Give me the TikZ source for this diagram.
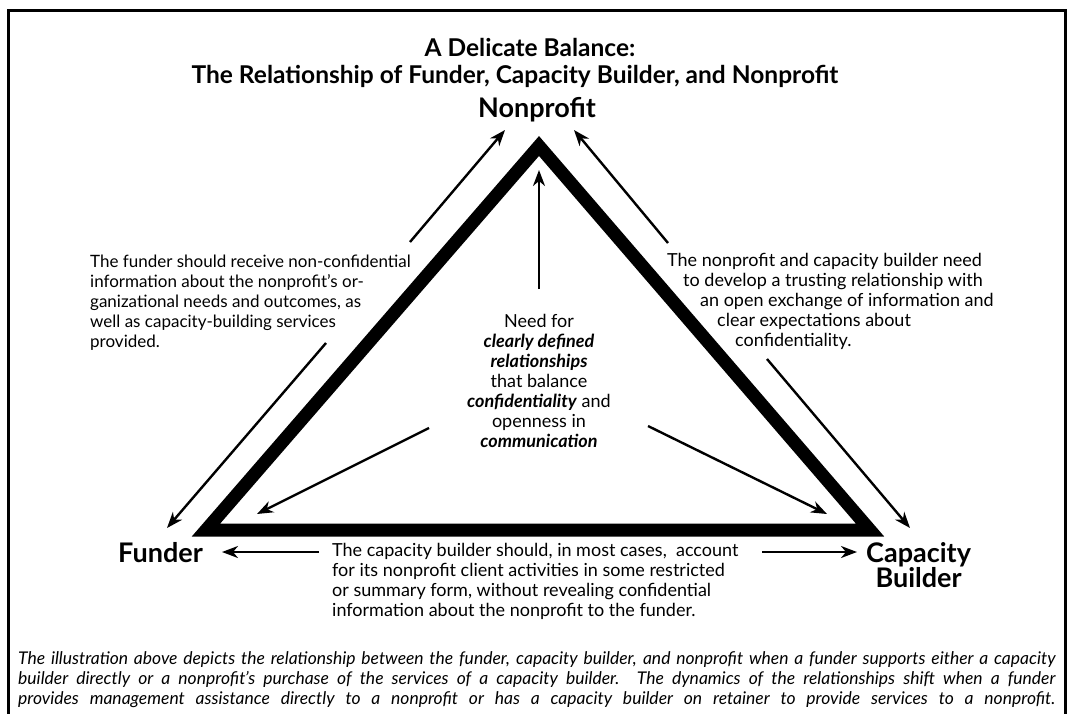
\documentclass[tikz,border=0pt]{standalone}
\usepackage{fontspec}
\setmainfont{Lato}
\usetikzlibrary{arrows.meta}

\tikzset{
  frame/.style={line width=3pt},
  balance/.style={line width=13pt, miter limit=10, line join=miter},
  flow/.style={line width=2.4pt, -{Stealth[length=16pt,width=12pt,inset=5pt]}},
  heading/.style={font=\fontsize{24.5}{28}\selectfont\bfseries, inner sep=0pt},
  party/.style={font=\fontsize{27}{24}\selectfont\bfseries, inner sep=0pt, align=center},
  body/.style={font=\fontsize{18}{20}\selectfont, inner sep=0pt},
  bodysmall/.style={font=\fontsize{17}{20}\selectfont, inner sep=0pt},
  note/.style={font=\fontsize{17.5}{20}\selectfont\itshape, inner sep=0pt, align=left},
}

\begin{document}
\begin{tikzpicture}[x=1pt, y=-1pt]
  \useasboundingbox (0,0) rectangle (1068,713);
  \fill[white] (0,0) rectangle (1068,713);

  % open frame (its lower edge lies below the page)
  \draw[frame] (8,740) -- (8,10) -- (1065,10) -- (1065,740);

  % titles
  \node[heading] (title1) at (530,47) {A Delicate Balance:};
  \node[heading] (title2) at (515,76) {The Relationship of Funder, Capacity Builder, and Nonprofit};

  % the three parties
  \node[party] (np) at (537,110) {Nonprofit};
  \node[party, anchor=east] (funder) at (203,553) {Funder};
  \node[party, anchor=west] (cb) at (866,565) {Capacity\\Builder};

  % the balance triangle
  \coordinate (A) at (539,146);
  \coordinate (B) at (206,530);
  \coordinate (C) at (870,530);
  \draw[balance] (A) -- (B) -- (C) -- cycle;

  % arrow end points
  \coordinate (l1s) at (410,242);  \coordinate (l1e) at (505,130);
  \coordinate (l2s) at (326,343);  \coordinate (l2e) at (167,528);
  \coordinate (r1s) at (668,243);  \coordinate (r1e) at (574,130);
  \coordinate (r2s) at (767,359);  \coordinate (r2e) at (910,528);
  \coordinate (c0s) at (539,289);  \coordinate (c0e) at (539,170);
  \coordinate (c1s) at (429,428);  \coordinate (c1e) at (257,514);
  \coordinate (c2s) at (648,426);  \coordinate (c2e) at (827,514);
  \coordinate (b1s) at (319,552);  \coordinate (b1e) at (222,552);
  \coordinate (b2s) at (762,552);  \coordinate (b2e) at (857,552);

  \draw[flow] (l1s) -- (l1e);
  \draw[flow] (l2s) -- (l2e);
  \draw[flow] (r1s) -- (r1e);
  \draw[flow] (r2s) -- (r2e);
  \draw[flow] (c0s) -- (c0e);
  \draw[flow] (c1s) -- (c1e);
  \draw[flow] (c2s) -- (c2e);
  \draw[flow] (b1s) -- (b1e);
  \draw[flow] (b2s) -- (b2e);

  % explanatory texts
  \node[bodysmall, align=left, anchor=north west] (lefttext) at (90,255) {%
    The funder should receive non-confidential\\
    information about the nonprofit's or-\\
    ganizational needs and outcomes, as\\
    well as capacity-building services\\
    provided.};

  \node[body, align=left, anchor=north west] (righttext) at (667,253) {%
    The nonprofit and capacity builder need\\
    \hspace*{16pt}to develop a trusting relationship with\\
    \hspace*{33pt}an open exchange of information and\\
    \hspace*{50pt}clear expectations about\\
    \hspace*{68pt}confidentiality.};

  \node[body, align=center, anchor=north] (centertext) at (539,314) {%
    Need for\\
    \textbf{\textit{clearly defined}}\\
    \textbf{\textit{relationships}}\\
    that balance\\
    \textbf{\textit{confidentiality}} and\\
    openness in\\
    \textbf{\textit{communication}}};

  \node[body, align=left, anchor=north west] (bottomtext) at (332,543) {%
    The capacity builder should, in most cases, \ account\\
    for its nonprofit client activities in some restricted\\
    or summary form, without revealing confidential\\
    information about the nonprofit to the funder.};

  % footnote
  \node[note, anchor=north west] (footnote) at (18,651) {%
    \makebox[1037pt][s]{The illustration above depicts the relationship between the funder, capacity builder, and nonprofit when a funder supports either a capacity}\\
    \makebox[1037pt][s]{builder directly or a nonprofit's purchase of the services of a capacity builder. The dynamics of the relationships shift when a funder}\\
    \makebox[1037pt][s]{provides management assistance directly to a nonprofit or has a capacity builder on retainer to provide services to a nonprofit.}};
\end{tikzpicture}
\end{document}
